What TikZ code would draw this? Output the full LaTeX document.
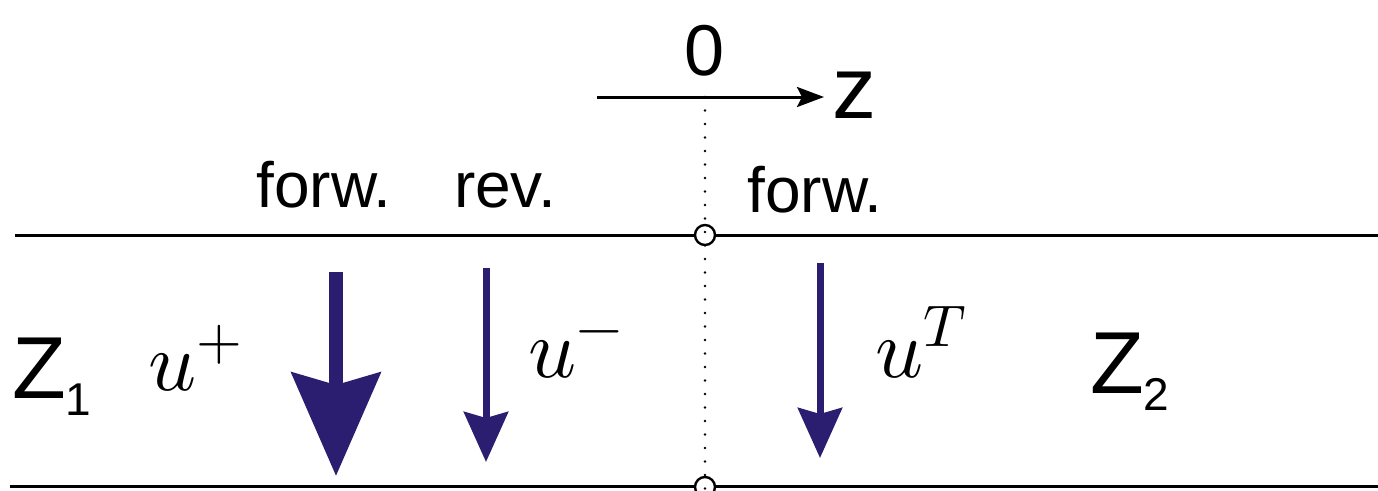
\documentclass[tikz,border=0pt]{standalone}
\usepackage{fontspec}
\usepackage{unicode-math}
\setmainfont{Liberation Sans}
\setmathfont{Latin Modern Math}
\usetikzlibrary{arrows.meta}
\definecolor{wavenavy}{HTML}{2B1D6F}
\newcommand{\impsub}[1]{\raisebox{-17pt}{\fontsize{46}{50}\selectfont #1}}

\begin{document}
\begin{tikzpicture}[x=1pt, y=-1pt,
    wire/.style={line width=3pt, black},
    port/.style={circle, draw, fill=white, line width=2.4pt, minimum size=20pt, inner sep=0pt},
    bigwave/.style={wavenavy, line width=14pt, -{Stealth[length=103pt, width=88pt, inset=12pt]}},
    wave/.style={wavenavy, line width=7pt, -{Stealth[length=50pt, width=44pt, inset=6pt]}},
    lbl/.style={anchor=base, inner sep=0pt, font=\fontsize{64}{70}\selectfont},
    mlbl/.style={anchor=base west, inner sep=0pt, font=\fontsize{84}{90}\selectfont}]
  \useasboundingbox (0,0) rectangle (1378,490);
  % line ends
  \coordinate (topL) at (15,235);
  \coordinate (topR) at (1378,235);
  \coordinate (botL) at (10,486);
  \coordinate (botR) at (1378,486);
  \coordinate (axisL) at (597,97);
  \coordinate (axisO) at (705,97);
  \coordinate (axisR) at (824,97);
  \coordinate (axisB) at (705,495);
  % the two lines
  \draw[wire] (topL) -- (topR);
  \draw[wire] (botL) -- (botR);
  \node[port] (topO) at (705,235) {};
  \node[port] (botO) at (705,487) {};
  % z axis
  \draw[wire, -{Stealth[length=27pt, width=20pt, inset=5pt]}] (axisL) -- (axisR);
  \draw[line width=2.8pt, line cap=round, dash pattern=on 0pt off 13.5pt] (axisO) -- (axisB);
  \node[lbl, font=\fontsize{72}{80}\selectfont] (zero) at (705,75) {0};
  \node[lbl, font=\fontsize{88}{96}\selectfont] (zlabel) at (854,118) {z};
  % wave labels
  \node[lbl] (forwA) at (324,207) {forw.};
  \node[lbl] (rev) at (505,207) {rev.};
  \node[lbl] (forwB) at (815,212) {forw.};
  % impedances
  \node[anchor=base west, inner sep=0pt, font=\fontsize{88}{96}\selectfont] (imp1) at (12,398) {Z\impsub{1}};
  \node[anchor=base west, inner sep=0pt, font=\fontsize{88}{96}\selectfont] (imp2) at (1090,393) {Z\impsub{2}};
  % waves
  \coordinate (uplusA) at (336,272);
  \coordinate (uplusB) at (336,476);
  \coordinate (uminusA) at (486,268);
  \coordinate (uminusB) at (486,462);
  \coordinate (utransA) at (820,263);
  \coordinate (utransB) at (820,458);
  \draw[bigwave] (uplusA) -- (uplusB);
  \draw[wave] (uminusA) -- (uminusB);
  \draw[wave] (utransA) -- (utransB);
  \node[mlbl] (uplus) at (148,390) {$u^+$};
  \node[mlbl] (uminus) at (528,377) {$u^-$};
  \node[mlbl] (utrans) at (875,377) {$u^T$};
\end{tikzpicture}
\end{document}
